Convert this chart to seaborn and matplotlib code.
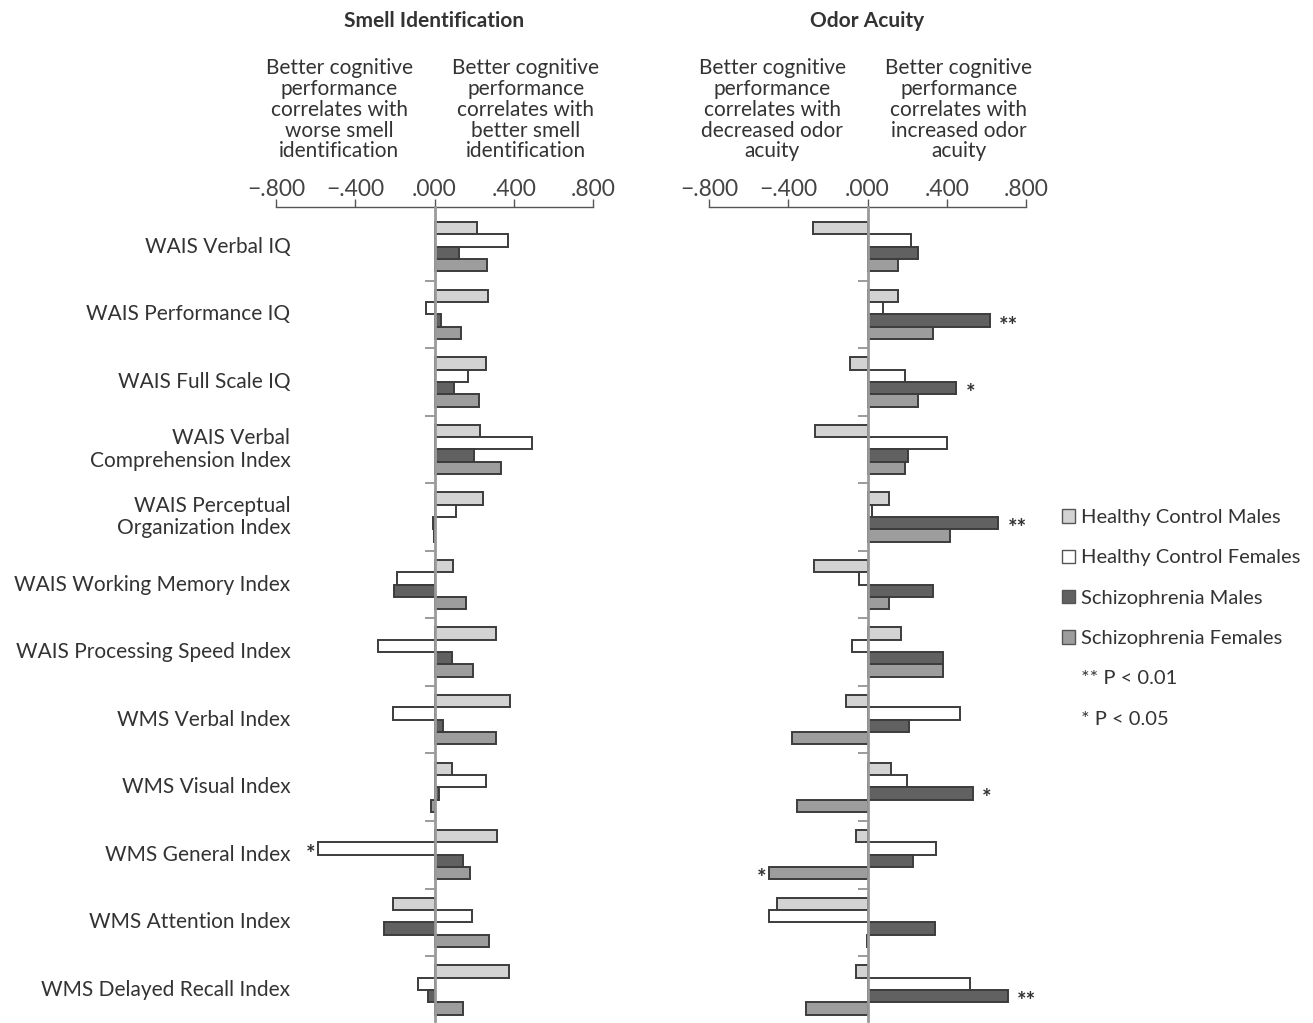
import numpy as np
import pandas as pd
import matplotlib
matplotlib.use("Agg")
import matplotlib.pyplot as plt
import matplotlib.transforms as mtransforms
from matplotlib.patches import Patch
import seaborn as sns

# =============================================================================
# Datos
# =============================================================================
TESTS = [
    "WAIS Verbal IQ",
    "WAIS Performance IQ",
    "WAIS Full Scale IQ",
    "WAIS Verbal\nComprehension Index",
    "WAIS Perceptual\nOrganization Index",
    "WAIS Working Memory Index",
    "WAIS Processing Speed Index",
    "WMS Verbal Index",
    "WMS Visual Index",
    "WMS General Index",
    "WMS Attention Index",
    "WMS Delayed Recall Index",
]
GROUPS = [
    "Healthy Control Males",
    "Healthy Control Females",
    "Schizophrenia Males",
    "Schizophrenia Females",
]

# Smell identification correlations
SMELL_HCM = [0.217, 0.268, 0.258, 0.232, 0.247, 0.091, 0.308, 0.379, 0.086, 0.313, -0.207, 0.374]
SMELL_HCF = [0.369, -0.045, 0.167, 0.490, 0.106, -0.187, -0.283, -0.207, 0.258, -0.586, 0.187, -0.081]
SMELL_SM = [0.126, 0.035, 0.096, 0.197, -0.010, -0.202, 0.086, 0.045, 0.025, 0.146, -0.253, -0.035]
SMELL_SF = [0.263, 0.136, 0.227, 0.338, -0.005, 0.157, 0.192, 0.308, -0.020, 0.177, 0.273, 0.146]

# Odor acuity correlations
ACUITY_HCM = [-0.273, 0.152, -0.086, -0.263, 0.106, -0.268, 0.167, -0.106, 0.121, -0.056, -0.455, -0.056]
ACUITY_HCF = [0.222, 0.076, 0.187, 0.399, 0.025, -0.045, -0.076, 0.465, 0.197, 0.348, -0.495, 0.515]
ACUITY_SM = [0.253, 0.616, 0.449, 0.202, 0.657, 0.333, 0.379, 0.207, 0.530, 0.232, 0.343, 0.707]
ACUITY_SF = [0.152, 0.333, 0.253, 0.187, 0.414, 0.106, 0.379, -0.379, -0.354, -0.495, -0.005, -0.308]

SMELL_STARS = [("WMS General Index", "Healthy Control Females", "*")]
ACUITY_STARS = [
    ("WAIS Performance IQ", "Schizophrenia Males", "**"),
    ("WAIS Full Scale IQ", "Schizophrenia Males", "*"),
    ("WAIS Perceptual\nOrganization Index", "Schizophrenia Males", "**"),
    ("WMS Visual Index", "Schizophrenia Males", "*"),
    ("WMS General Index", "Schizophrenia Females", "*"),
    ("WMS Delayed Recall Index", "Schizophrenia Males", "**"),
]

XTICKS = [-0.8, -0.4, 0.0, 0.4, 0.8]

SMELL_NOTES = [
    "Better cognitive\nperformance\ncorrelates with\nworse smell\nidentification",
    "Better cognitive\nperformance\ncorrelates with\nbetter smell\nidentification",
]
ACUITY_NOTES = [
    "Better cognitive\nperformance\ncorrelates with\ndecreased odor\nacuity",
    "Better cognitive\nperformance\ncorrelates with\nincreased odor\nacuity",
]

# =============================================================================
# Estilo
# =============================================================================
COLORS = ["#d3d3d3", "#ffffff", "#616161", "#9d9d9d"]
EDGE = "#3c3c3c"
TEXT = "#333333"
FS = 15

sns.set_theme(style="white")
plt.rcParams["font.family"] = ["Lato", "DejaVu Sans"]
plt.rcParams["text.color"] = TEXT


def build_frame(values):
    rows = []
    for g, vals in zip(GROUPS, values):
        for t, v in zip(TESTS, vals):
            rows.append({"test": t, "group": g, "r": v})
    return pd.DataFrame(rows)


def fmt_tick(v):
    s = f"{abs(v):.3f}".lstrip("0")
    return ("\u2212" + s) if v < 0 else s


def draw_panel(ax, df, title, notes, stars, show_labels):
    sns.barplot(data=df, x="r", y="test", hue="group", order=TESTS,
                hue_order=GROUPS, palette=COLORS, saturation=1, orient="h",
                width=0.73, errorbar=None, edgecolor=EDGE, linewidth=1.4,
                legend=False, ax=ax, zorder=2)
    ax.set_xlim(-0.8, 0.8)
    ax.set_ylim(len(TESTS) - 0.54, -0.59)
    ax.set_xlabel("")
    ax.set_ylabel("")

    # eje superior
    ax.xaxis.set_ticks_position("top")
    ax.set_xticks(XTICKS, labels=[fmt_tick(v) for v in XTICKS])
    ax.tick_params(axis="x", which="major", direction="out", length=6,
                   width=1, color="#555555", labelsize=16.5, labelcolor="#444444",
                   pad=-1)
    for side in ["bottom", "right"]:
        ax.spines[side].set_visible(False)
    ax.spines["top"].set_color("#555555")
    ax.spines["top"].set_linewidth(1)
    ax.spines["left"].set_position(("data", 0))
    ax.spines["left"].set_color("#9a9a9a")
    ax.spines["left"].set_linewidth(2)
    ax.spines["left"].set_zorder(3)

    # marcas entre categorías
    ax.set_yticks(np.arange(0.5, len(TESTS) - 1, 1), minor=True)
    ax.tick_params(axis="y", which="minor", length=7, width=1.2,
                   color="#8a8a8a", direction="out", left=True)
    ax.tick_params(axis="y", which="major", length=0, labelleft=False)

    if show_labels:
        for i, t in enumerate(TESTS):
            ax.text(-0.727, i, t, ha="right", va="center", fontsize=FS,
                    color=TEXT, multialignment="right", linespacing=1.15)

    ax.text(0.5, 1.228, title, transform=ax.transAxes, ha="center",
            va="center", fontsize=15, fontweight="bold", color=TEXT)

    trans = mtransforms.blended_transform_factory(ax.transData, ax.transAxes)
    for x, note in zip([-0.48, 0.46], notes):
        ax.text(x, 1.056, note, transform=trans, ha="center", va="bottom",
                fontsize=FS, linespacing=1.05, color=TEXT)

    for test, group, mark in stars:
        patch = ax.containers[GROUPS.index(group)][TESTS.index(test)]
        w = patch.get_width()
        yc = patch.get_y() + patch.get_height() / 2
        if w > 0:
            ax.annotate(mark, (w, yc), xytext=(7, -4), textcoords="offset points",
                        ha="left", va="center", fontsize=16, fontweight="bold",
                        color=TEXT)
        else:
            ax.annotate(mark, (w, yc), xytext=(-2, -4), textcoords="offset points",
                        ha="right", va="center", fontsize=16, fontweight="bold",
                        color=TEXT)


# =============================================================================
# Figura
# =============================================================================
def run():
    fig = plt.figure(figsize=(13.13, 10.23), dpi=100)
    ax1 = fig.add_axes([276 / 1313, 0.002, 317 / 1313, 0.7957])
    ax2 = fig.add_axes([709 / 1313, 0.002, 317 / 1313, 0.7957])

    smell = build_frame([SMELL_HCM, SMELL_HCF, SMELL_SM, SMELL_SF])
    acuity = build_frame([ACUITY_HCM, ACUITY_HCF, ACUITY_SM, ACUITY_SF])

    draw_panel(ax1, smell, "Smell Identification", SMELL_NOTES, SMELL_STARS, True)
    draw_panel(ax2, acuity, "Odor Acuity", ACUITY_NOTES, ACUITY_STARS, False)

    handles = [Patch(facecolor=c, edgecolor="#555555", linewidth=1) for c in COLORS]
    handles += [Patch(facecolor="none", edgecolor="none")] * 2
    labels = GROUPS + ["** P < 0.01", "* P < 0.05"]
    fig.legend(handles, labels, loc="upper left",
               bbox_to_anchor=(1062 / 1313, 1 - 509 / 1023), frameon=False,
               fontsize=14.5, labelspacing=1.16, handlelength=0.64,
               handleheight=0.64, handletextpad=0.3, borderpad=0,
               borderaxespad=0, labelcolor=TEXT)

    fig.savefig("out.png", dpi=100)
    plt.close(fig)


if __name__ == "__main__":
    run()
